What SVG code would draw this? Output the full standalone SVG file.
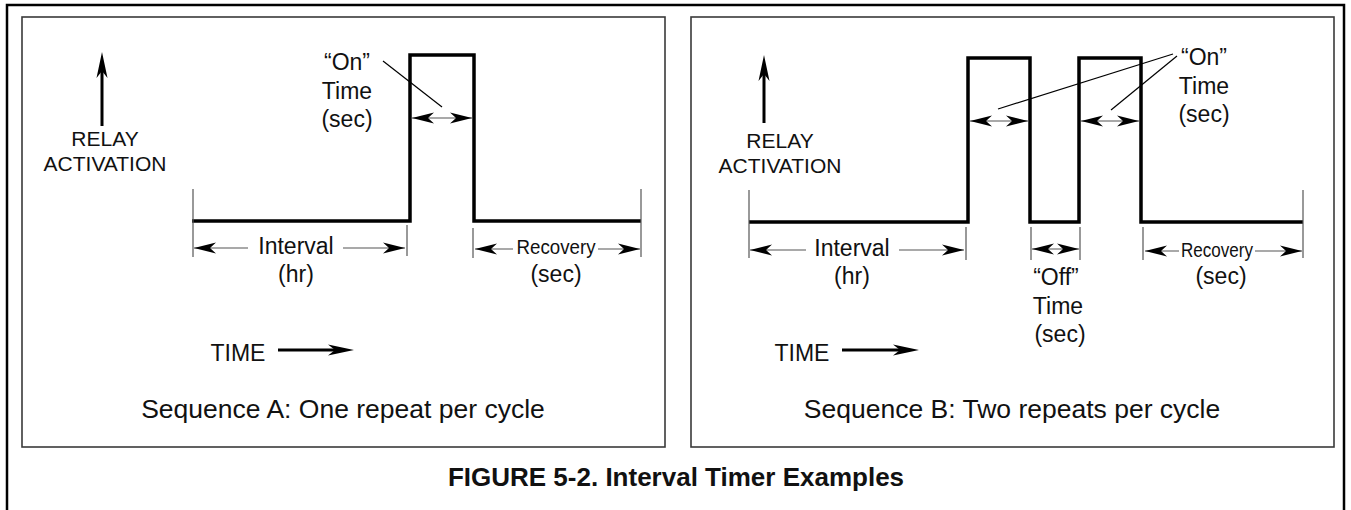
<svg xmlns="http://www.w3.org/2000/svg" width="1351" height="510" viewBox="0 0 1351 510">
<style>
text{font-family:"Liberation Sans",Arial,Helvetica,sans-serif;fill:#111;text-anchor:middle}
.t23{font-size:23px}
.t21{font-size:21px}
.seq{font-size:26.5px}
.cap{font-size:26px;font-weight:bold}
.panel{fill:none;stroke:#3a3a3a;stroke-width:1.6}
.wave{fill:none;stroke:#000;stroke-width:3.5;stroke-linejoin:miter}
.ext{stroke:#555;stroke-width:1.2}
.dim{stroke:#555;stroke-width:1.2;fill:none}
.lead{stroke:#000;stroke-width:1.2}
.thick{stroke:#000;stroke-width:3}
</style>
<defs>
<marker id="a" markerUnits="userSpaceOnUse" markerWidth="22" markerHeight="12" viewBox="0 0 22 12" refX="22" refY="6" orient="auto-start-reverse"><path d="M0,0.5 L22,6 L0,11.5 L6,6 Z" fill="#000"/></marker>
<marker id="b" markerUnits="userSpaceOnUse" markerWidth="26" markerHeight="12" viewBox="0 0 26 12" refX="16" refY="6" orient="auto-start-reverse"><path d="M0,0.5 L26,6 L0,11.5 L7,6 Z" fill="#000"/></marker>
</defs>
<rect width="1351" height="510" fill="#fff"/>
<g id="frame">
<path d="M7,512 V5 H1344 V512" fill="none" stroke="#000" stroke-width="2.5"/>
</g>

<g id="panelA">
<rect class="panel" x="22" y="17" width="643" height="430"/>
<text class="t21" x="105" y="146">RELAY</text>
<text class="t21" x="105" y="171">ACTIVATION</text>
<text class="t23" x="347" y="70">“On”</text>
<text class="t23" x="347" y="99">Time</text>
<text class="t23" x="347" y="127">(sec)</text>
<text class="t23" x="296" y="254">Interval</text>
<text class="t23" x="296" y="282">(hr)</text>
<text class="t21" x="556" y="254" textLength="79" lengthAdjust="spacingAndGlyphs">Recovery</text>
<text class="t23" x="556" y="282">(sec)</text>
<text class="t23" x="238" y="361">TIME</text>
<text class="seq" x="343" y="418">Sequence A: One repeat per cycle</text>
</g>

<g id="panelB">
<rect class="panel" x="691" y="17" width="643" height="430"/>
<text class="t21" x="780" y="148">RELAY</text>
<text class="t21" x="780" y="173">ACTIVATION</text>
<text class="t23" x="1204" y="65">“On”</text>
<text class="t23" x="1204" y="94">Time</text>
<text class="t23" x="1204" y="122">(sec)</text>
<text class="t23" x="852" y="256">Interval</text>
<text class="t23" x="852" y="284">(hr)</text>
<text class="t23" x="1056" y="285">“Off”</text>
<text class="t23" x="1058" y="314">Time</text>
<text class="t23" x="1060" y="342">(sec)</text>
<text class="t21" x="1217" y="257" textLength="72" lengthAdjust="spacingAndGlyphs">Recovery</text>
<text class="t23" x="1221" y="284">(sec)</text>
<text class="t23" x="802" y="361">TIME</text>
<text class="seq" x="1012" y="418">Sequence B: Two repeats per cycle</text>
</g>

<g id="caption">
<text class="cap" x="676" y="486">FIGURE 5-2. Interval Timer Examples</text>
</g>

<g id="connectors">
<path class="wave" d="M192,221 H410 V55 H474 V221 H641"/>
<line class="ext" x1="193" y1="189" x2="193" y2="257"/>
<line class="ext" x1="641" y1="189" x2="641" y2="257"/>
<line class="ext" x1="407" y1="225" x2="407" y2="256"/>
<line class="ext" x1="473" y1="228" x2="473" y2="258"/>
<line class="dim" x1="194" y1="248" x2="248" y2="248" marker-start="url(#a)"/>
<line class="dim" x1="343" y1="248" x2="405" y2="248" marker-end="url(#a)"/>
<line class="dim" x1="475" y1="249" x2="513" y2="249" marker-start="url(#a)"/>
<line class="dim" x1="598" y1="249" x2="640" y2="249" marker-end="url(#a)"/>
<line class="dim" x1="412" y1="118" x2="472" y2="118" marker-start="url(#a)" marker-end="url(#a)"/>
<line class="lead" x1="383" y1="61" x2="442" y2="107"/>
<line class="thick" x1="102" y1="126" x2="102" y2="62" marker-end="url(#b)"/>
<line class="thick" x1="278" y1="350" x2="344" y2="350" stroke-width="2.5" marker-end="url(#b)"/>

<path class="wave" d="M749,222 H968 V58 H1030 V222 H1079 V58 H1141 V222 H1303"/>
<line class="ext" x1="749" y1="190" x2="749" y2="258"/>
<line class="ext" x1="1303" y1="190" x2="1303" y2="258"/>
<line class="ext" x1="966" y1="227" x2="966" y2="260"/>
<line class="ext" x1="1031" y1="227" x2="1031" y2="260"/>
<line class="ext" x1="1080" y1="227" x2="1080" y2="260"/>
<line class="ext" x1="1143" y1="227" x2="1143" y2="260"/>
<line class="dim" x1="750" y1="250" x2="806" y2="250" marker-start="url(#a)"/>
<line class="dim" x1="899" y1="250" x2="964" y2="250" marker-end="url(#a)"/>
<line class="dim" x1="1032" y1="249" x2="1079" y2="249" marker-start="url(#a)" marker-end="url(#a)"/>
<line class="dim" x1="1145" y1="251" x2="1179" y2="251" marker-start="url(#a)"/>
<line class="dim" x1="1255" y1="251" x2="1302" y2="251" marker-end="url(#a)"/>
<line class="dim" x1="970" y1="121" x2="1028" y2="121" marker-start="url(#a)" marker-end="url(#a)"/>
<line class="dim" x1="1081" y1="121" x2="1139" y2="121" marker-start="url(#a)" marker-end="url(#a)"/>
<line class="lead" x1="1173" y1="54" x2="998" y2="109"/>
<line class="lead" x1="1177" y1="56" x2="1111" y2="110"/>
<line class="thick" x1="764" y1="123" x2="764" y2="65" marker-end="url(#b)"/>
<line class="thick" x1="842" y1="350" x2="909" y2="350" stroke-width="2.5" marker-end="url(#b)"/>
</g>
</svg>
